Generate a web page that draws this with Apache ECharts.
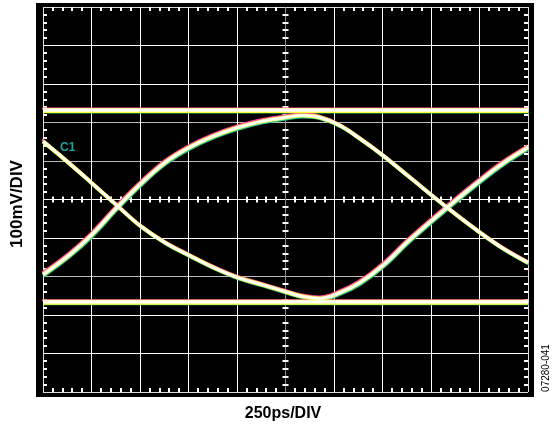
<!DOCTYPE html>
<html>
<head>
<meta charset="utf-8">
<script src="https://cdn.jsdelivr.net/npm/echarts@6/dist/echarts.min.js"></script>
<style>
  html, body { margin: 0; padding: 0; background: #fff; }
  #chart { width: 553px; height: 427px; }
</style>
</head>
<body>
<div id="chart"></div>
<script>
// time axis (ps) and voltage axis (mV), 10 x 10 divisions
const xMin = 0, xMax = 2500, xStep = 250;
const yMin = -500, yMax = 500, yStep = 100;

// the two flat rails (111 / 000 patterns)
const railPs = [0, 2500];
const topRailMv = [231, 231];
const bottomRailMv = [-267, -267];

// 010 pattern: rises from the left, peaks near the centre, falls to the right
const upperHumpPs = [0, 134, 247, 387, 500, 629, 753, 876, 1005, 1129, 1247, 1340, 1428, 1531, 1634, 1753, 1892, 2083, 2253, 2371, 2500];
const upperHumpMv = [-195, -145, -94, -18, 39, 96, 135, 164, 187, 203, 213, 218, 213, 192, 158, 114, 57, -21, -86, -127, -164];

// 101 pattern: falls from the left, bottoms out near the centre, rises to the right
const lowerHumpPs = [0, 119, 242, 387, 500, 629, 753, 881, 1005, 1129, 1247, 1340, 1428, 1531, 1634, 1753, 1892, 2083, 2253, 2371, 2500];
const lowerHumpMv = [151, 101, 47, -18, -68, -112, -145, -177, -203, -221, -239, -252, -257, -242, -216, -171, -104, -21, 49, 94, 135];

const chart = echarts.init(document.getElementById('chart'));

const zip = (xs, ys) => xs.map((x, i) => [x, ys[i]]);
const rails = [zip(railPs, topRailMv), zip(railPs, bottomRailMv)];
const humps = [zip(upperHumpPs, upperHumpMv), zip(lowerHumpPs, lowerHumpMv)];

// persistence look: coloured fringes under a yellow / white core
const fringeGreen = { color: '#27c08c', width: 2, shadowColor: '#27c08c', shadowOffsetX: 1, shadowOffsetY: 2 };
const fringePink = { color: '#ff4a9e', width: 2, shadowColor: '#ff4a9e', shadowOffsetX: -1, shadowOffsetY: -2 };

const series = [];
function addTrace(data, ls) {
  series.push({
    type: 'line',
    data: data,
    smooth: 0.4,
    symbol: 'none',
    silent: true,
    lineStyle: Object.assign({ shadowBlur: 0 }, ls)
  });
}
[fringeGreen, fringePink].forEach((ls) => {
  rails.forEach((d) => addTrace(d, ls));
  humps.forEach((d) => addTrace(d, ls));
});
rails.forEach((d) => addTrace(d, { color: '#ffff33', width: 5 }));
humps.forEach((d) => addTrace(d, { color: '#ffff55', width: 4 }));
rails.forEach((d) => addTrace(d, { color: '#ffffff', width: 2.2, shadowColor: '#ffffff', shadowOffsetY: -1 }));
humps.forEach((d) => addTrace(d, { color: '#ffffff', width: 2.6 }));

// grid line colours: a few of them are drawn grey on the scope
const xLineColors = ['#ddd', '#fff', '#fff', '#fff', '#fff', '#8c8c8c', '#fff', '#fff', '#fff', '#fff', '#ddd'];
const yLineColors = ['#ddd', '#fff', '#fff', '#bbb', '#fff', '#fff', '#bbb', '#bbb', '#fff', '#fff', '#ddd'];

const minor = (len) => ({
  show: true,
  splitNumber: 5,
  length: len,
  lineStyle: { color: '#fff', width: 2 }
});

function makeAxis(extra, tickLen, inside, lines) {
  return Object.assign({
    type: 'value',
    axisLine: { show: false, onZero: false },
    axisLabel: { show: false },
    axisTick: { show: false, inside: inside },
    minorTick: minor(tickLen),
    splitLine: lines
      ? { show: true, lineStyle: { color: lines, width: 1 } }
      : { show: false }
  }, extra);
}

const xRange = { min: xMin, max: xMax, interval: xStep };
const yRange = { min: yMin, max: yMax, interval: yStep };

const option = {
  backgroundColor: '#fff',
  animation: false,
  graphic: [
    { type: 'rect', z: 0, shape: { x: 36, y: 3, width: 498, height: 394 }, style: { fill: '#000' } },
    {
      type: 'text', z: 10, left: 60, top: 142,
      style: { text: 'C1', fill: '#1aa5a0', font: 'bold 12px "Liberation Sans Narrow", "Liberation Sans", sans-serif' }
    },
    {
      type: 'text', z: 10, x: 17, y: 204, rotation: Math.PI / 2,
      style: { text: '100mV/DIV', fill: '#000', font: 'bold 17px "Liberation Sans", Arial, sans-serif', align: 'center', verticalAlign: 'middle' }
    },
    {
      type: 'text', z: 10, x: 283, y: 414,
      style: { text: '250ps/DIV', fill: '#000', font: 'bold 16px "Liberation Sans", Arial, sans-serif', align: 'center', verticalAlign: 'middle' }
    },
    {
      type: 'text', z: 10, x: 546, y: 368, rotation: Math.PI / 2,
      style: { text: '07280-041', fill: '#000', font: '10px "Liberation Sans", Arial, sans-serif', align: 'center', verticalAlign: 'middle' }
    }
  ],
  grid: {
    left: 43, top: 7, width: 485, height: 385,
    show: true, backgroundColor: '#000', borderColor: '#d8d8d8', borderWidth: 2
  },
  xAxis: [
    makeAxis(Object.assign({ position: 'bottom' }, xRange), 4, true, xLineColors),
    makeAxis(Object.assign({ position: 'top' }, xRange), 4, true),
    makeAxis(Object.assign({ position: 'bottom', offset: -192.5 }, xRange), 3, true),
    makeAxis(Object.assign({ position: 'bottom', offset: -192.5 }, xRange), 3, false)
  ],
  yAxis: [
    makeAxis(Object.assign({ position: 'left' }, yRange), 4, true, yLineColors),
    makeAxis(Object.assign({ position: 'right' }, yRange), 4, true),
    makeAxis(Object.assign({ position: 'left', offset: -242.5 }, yRange), 3, true),
    makeAxis(Object.assign({ position: 'left', offset: -242.5 }, yRange), 3, false)
  ],
  series: series
};

chart.setOption(option);
</script>
</body>
</html>
